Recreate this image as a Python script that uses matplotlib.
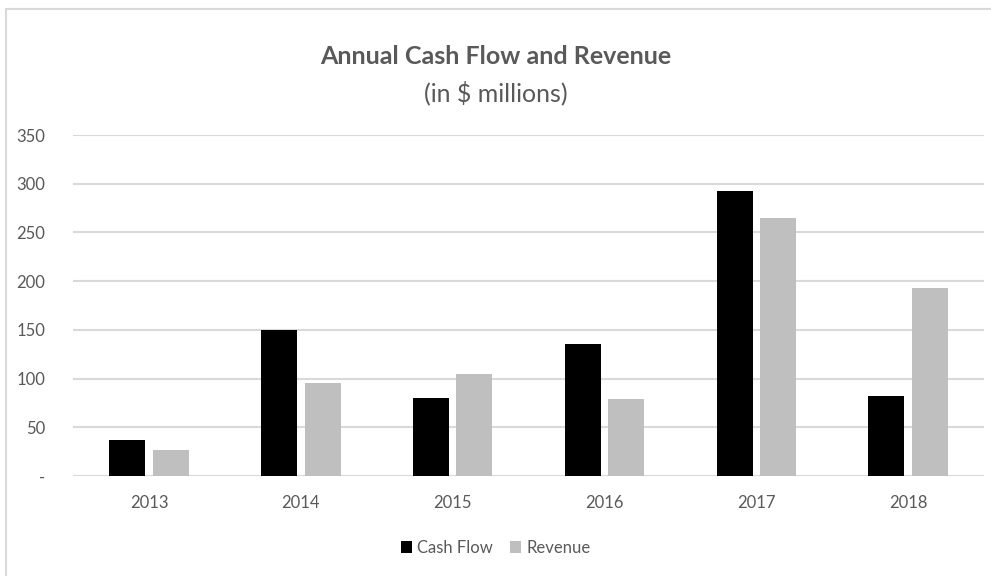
import numpy as np
import matplotlib.pyplot as plt
from matplotlib.patches import Rectangle

years = ['2013', '2014', '2015', '2016', '2017', '2018']
cash_flow = [37, 150, 80, 136, 293, 82]
revenue = [27, 95, 105, 79, 265, 193]
yticks = [0, 50, 100, 150, 200, 250, 300, 350]
ytick_labels = ['-', '50', '100', '150', '200', '250', '300', '350']

plt.rcParams['font.family'] = ['Lato', 'DejaVu Sans']
txt = '#595959'

fig = plt.figure(figsize=(9.91, 5.76), dpi=100)
ax = fig.add_axes([0.0737, 0.1736, 0.9193, 0.592])

x = np.arange(len(years))
w = 0.237
off = 0.025 + w / 2
ax.bar(x - off, cash_flow, w, color='black', label='Cash Flow', zorder=3)
ax.bar(x + off, revenue, w, color='#bfbfbf', label='Revenue', zorder=3)

ax.set_xlim(-0.5, len(years) - 0.5)
ax.set_ylim(0, 350)
ax.set_yticks(yticks)
ax.set_yticklabels(ytick_labels)
ax.set_xticks(x)
ax.set_xticklabels(years)
ax.grid(axis='y', color='#d9d9d9', lw=1.5, zorder=0)
ax.tick_params(length=0, colors=txt, labelsize=12)
ax.tick_params(axis='y', pad=20)
ax.tick_params(axis='x', pad=14)
for s in ax.spines.values():
    s.set_visible(False)

fig.text(0.5, 0.902, 'Annual Cash Flow and Revenue', ha='center', va='center',
         fontsize=18, fontweight='bold', color=txt)
fig.text(0.5, 0.838, '(in $ millions)', ha='center', va='center',
         fontsize=18, color=txt)

ax.legend(loc='center', bbox_to_anchor=(0.5, 0.049), bbox_transform=fig.transFigure,
          ncol=2, frameon=False, fontsize=12, handlelength=0.7, handleheight=0.8,
          handletextpad=0.3, columnspacing=1.0, labelcolor=txt)

# chart area frame
fig.patches.append(Rectangle((6 / 991, -0.01), 1.0, 1 - 9 / 576 + 0.01,
                             transform=fig.transFigure, fill=False,
                             edgecolor='#d9d9d9', lw=1.5))

fig.savefig('out.png', dpi=100)
